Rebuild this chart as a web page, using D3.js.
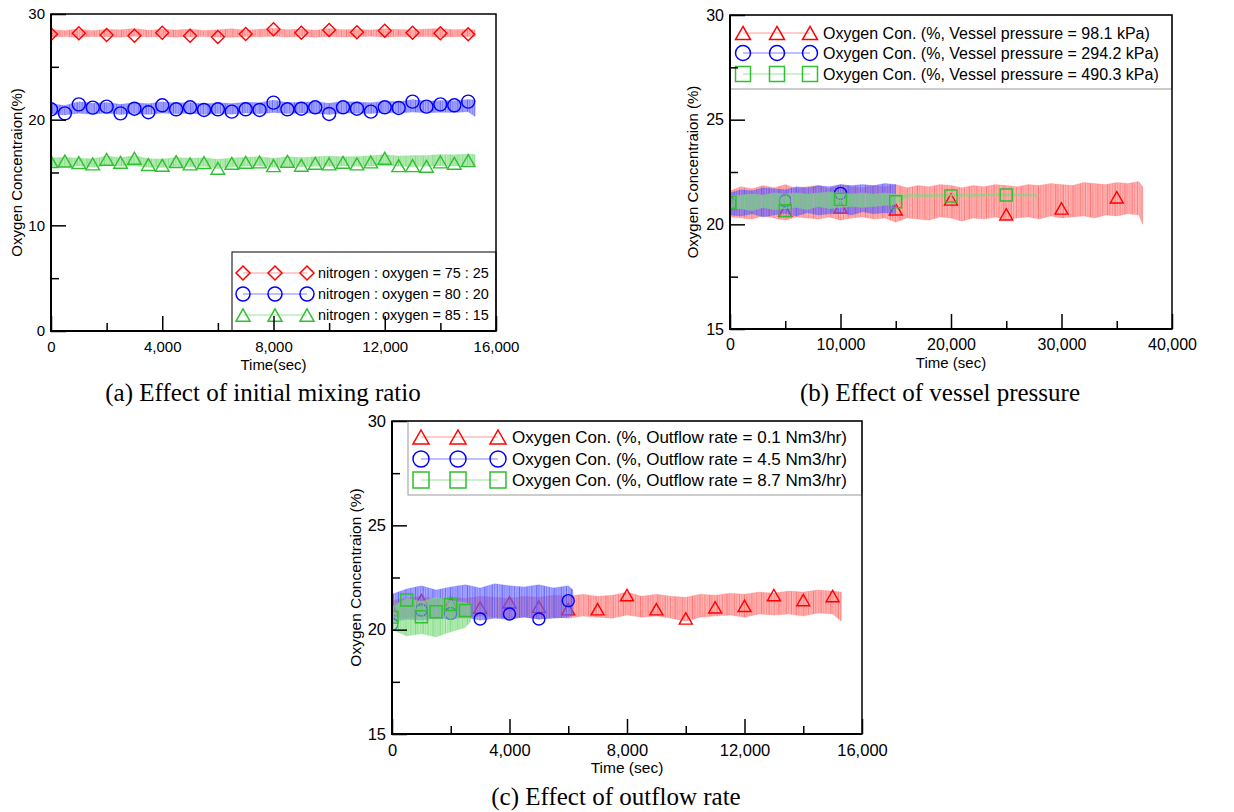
<!DOCTYPE html>
<html><head><meta charset="utf-8">
<script src="https://cdn.jsdelivr.net/npm/d3@7/dist/d3.min.js"></script>
<style>body{margin:0;background:#fff}svg{display:block}</style>
</head><body>
<script>
// ---------------- DATA ----------------
// Panel (a): effect of initial mixing ratio
const aLabels = ["nitrogen : oxygen = 75 : 25", "nitrogen : oxygen = 80 : 20", "nitrogen : oxygen = 85 : 15"];
const aRedMarkT = [0,1000,2000,3000,4000,5000,6000,7000,8000,9000,10000,11000,12000,13000,14000,15000];
const aRedMarkV = [28.08,28.17,28.01,27.95,28.23,27.95,27.82,28.11,28.55,28.23,28.49,28.27,28.42,28.23,28.17,28.08];
const aHalfT = [0,500,1000,1500,2000,2500,3000,3500,4000,4500,5000,5500,6000,6500,7000,7500,8000,8500,9000,9500,10000,10500,11000,11500,12000,12500,13000,13500,14000,14500,15000];
const aBlueMarkV = [20.98,20.60,21.45,21.14,21.23,20.60,21.04,20.70,21.36,20.98,21.17,20.92,20.98,20.76,20.98,20.92,21.61,20.98,21.04,21.17,20.54,21.17,21.04,20.76,21.17,21.11,21.71,21.23,21.45,21.36,21.71];
const aGreenMarkV = [16.03,16.09,15.94,15.81,16.25,15.97,16.35,15.75,15.68,16.03,15.81,15.94,15.40,15.87,15.97,16.00,15.65,16.06,15.68,15.87,15.81,15.97,15.81,16.00,16.35,15.65,15.65,15.59,16.00,15.87,16.13];
// noisy measured traces: min / max of the signal, read every 500 s
const aTraceStep = 500, aTraceEnd = 15250;
const aRedLo = [27.82,27.86,27.78,27.88,27.84,27.80,27.90,27.83,27.86,27.79,27.85,27.88,27.82,27.80,27.87,27.84,27.90,27.82,27.86,27.80,27.88,27.83,27.85,27.90,27.81,27.86,27.84,27.88,27.82,27.85,27.87,27.86];
const aRedHi = [28.52,28.45,28.58,28.42,28.55,28.50,28.62,28.46,28.55,28.48,28.58,28.44,28.52,28.60,28.47,28.55,28.66,28.50,28.58,28.46,28.62,28.52,28.56,28.48,28.60,28.54,28.50,28.58,28.62,28.52,28.56,28.50];
const aBlueLo = [20.55,20.45,20.60,20.52,20.62,20.48,20.58,20.50,20.62,20.55,20.60,20.50,20.58,20.52,20.62,20.55,20.68,20.58,20.62,20.60,20.50,20.65,20.60,20.58,20.68,20.62,20.72,20.66,20.70,20.68,20.75,20.30];
const aBlueHi = [21.50,21.35,21.70,21.55,21.62,21.45,21.60,21.50,21.70,21.58,21.62,21.48,21.60,21.52,21.65,21.60,21.85,21.60,21.65,21.70,21.55,21.72,21.68,21.60,21.75,21.70,21.90,21.75,21.82,21.78,21.90,21.85];
const aGreenLo = [15.60,15.55,15.62,15.50,15.65,15.58,15.62,15.50,15.48,15.60,15.55,15.58,15.35,15.55,15.60,15.62,15.50,15.60,15.55,15.58,15.60,15.62,15.58,15.62,15.65,15.60,15.55,15.58,15.65,15.62,15.68,15.66];
const aGreenHi = [16.40,16.45,16.35,16.30,16.55,16.40,16.60,16.30,16.28,16.42,16.35,16.40,16.25,16.38,16.45,16.50,16.35,16.48,16.42,16.50,16.55,16.48,16.52,16.58,16.70,16.55,16.60,16.62,16.70,16.68,16.75,16.70];

// Panel (b): effect of vessel pressure
const bLabels = ["Oxygen Con. (%, Vessel pressure = 98.1 kPa)", "Oxygen Con. (%, Vessel pressure = 294.2 kPa)", "Oxygen Con. (%, Vessel pressure = 490.3 kPa)"];
const bRedMarkT = [0,5000,10000,15000,20000,25000,30000,35000];
const bRedMarkV = [21.00,20.65,20.81,20.72,21.19,20.48,20.76,21.29];
const bBlueMarkT = [0,5000,10000];
const bBlueMarkV = [21.00,21.13,21.48];
const bGreenMarkT = [0,5000,10000,15000,20000,25000];
const bGreenMarkV = [21.05,20.65,21.19,21.08,21.35,21.40];
const bTraceStep = 1000;
const bRedEnd = 37350;
const bRedLo = [20.35,20.30,20.25,20.40,20.30,20.20,20.35,20.30,20.25,20.35,20.20,20.30,20.35,20.25,20.30,20.10,20.30,20.25,20.20,20.35,20.30,20.15,20.30,20.25,20.35,20.20,20.30,20.35,20.25,20.40,20.30,20.35,20.40,20.30,20.45,20.40,20.50,20.45,20.00];
const bRedHi = [21.60,21.80,21.70,21.85,21.75,21.90,21.70,21.80,21.85,21.70,21.90,21.80,21.75,21.85,21.80,21.90,21.75,21.85,21.80,21.90,21.85,21.75,21.85,21.80,21.90,21.85,21.80,21.90,21.85,21.95,21.90,21.85,22.00,21.95,21.90,22.00,21.95,22.05,21.80];
const bBlueEnd = 15000;
const bBlueLo = [20.45,20.40,20.50,20.35,20.45,20.50,20.40,20.55,20.45,20.50,20.55,20.45,20.60,20.50,20.55,20.50];
const bBlueHi = [21.50,21.65,21.60,21.75,21.70,21.65,21.80,21.75,21.85,21.80,21.90,21.85,21.90,21.85,21.95,21.90];
const bGreenT  = [0,1000,2000,3000,4000,5000,6000,7000,8000,9000,10000,11000,12000,13000,14000,15000,16000,18000,20000,22000,24000,26000,27800,27800];
const bGreenLo = [20.70,20.75,20.65,20.80,20.70,20.75,20.80,20.70,20.85,20.75,20.80,20.85,20.80,20.85,20.90,20.95,21.30,21.32,21.35,21.33,21.36,21.35,21.34,20.75];
const bGreenHi = [21.35,21.40,21.45,21.40,21.50,21.45,21.50,21.45,21.50,21.55,21.50,21.45,21.50,21.45,21.50,21.45,21.42,21.44,21.45,21.44,21.46,21.45,21.44,21.44];

// Panel (c): effect of outflow rate
const cLabels = ["Oxygen Con. (%, Outflow rate = 0.1 Nm3/hr)", "Oxygen Con. (%, Outflow rate = 4.5 Nm3/hr)", "Oxygen Con. (%, Outflow rate = 8.7 Nm3/hr)"];
const cRedMarkT = [0,1000,2000,3000,4000,5000,6000,7000,8000,9000,10000,11000,12000,13000,14000,15000];
const cRedMarkV = [20.94,21.42,21.26,21.06,21.31,21.10,20.98,20.98,21.66,20.98,20.54,21.07,21.14,21.66,21.42,21.61];
const cBlueMarkT = [0,1000,2000,3000,4000,5000,6000];
const cBlueMarkV = [20.26,20.94,20.78,20.51,20.75,20.51,21.39];
const cGreenMarkT = [0,500,1000,1500,2000,2500];
const cGreenMarkV = [20.60,21.42,20.62,20.86,21.20,20.92];
const cTraceStep = 500;
const cRedEnd = 15300;
const cRedLo = [20.60,20.55,20.65,20.50,20.60,20.55,20.65,20.60,20.55,20.62,20.50,20.60,20.55,20.65,20.60,20.55,20.70,20.60,20.65,20.55,20.40,20.60,20.65,20.70,20.60,20.75,20.70,20.75,20.65,20.80,20.75,20.40];
const cRedHi = [21.40,21.50,21.60,21.45,21.55,21.50,21.60,21.55,21.50,21.60,21.55,21.65,21.60,21.70,21.60,21.65,21.80,21.60,21.70,21.60,21.55,21.70,21.65,21.75,21.70,21.80,21.75,21.85,21.80,21.90,21.85,21.80];
const cBlueEnd = 6160;
const cBlueLo = [20.35,20.50,20.45,20.55,20.50,20.60,20.45,20.55,20.50,20.60,20.50,20.55,20.60,20.70];
const cBlueHi = [21.70,21.95,22.10,21.90,22.05,22.15,22.00,22.20,22.10,22.05,22.15,22.00,22.10,21.90];
const cGreenEnd = 2680;
const cGreenLo = [20.00,19.70,19.80,19.65,19.90,20.10,20.40];
const cGreenHi = [21.10,21.50,21.35,21.55,21.40,21.30,21.20];

// ---------------- DRAWING ----------------
const W = 1234, H = 812;
const svg = d3.select("body").append("svg").attr("width", W).attr("height", H);
const SANS = "'Liberation Sans', Arial, sans-serif";
const SERIF = "'Liberation Serif', 'Times New Roman', serif";
const COL = {
  red:   {mark: "#ff0000", trace: "#ff6f6f", leg: "#ff9a9a"},
  blue:  {mark: "#0000ff", trace: "#5c5cff", leg: "#8080ff"},
  green: {mark: "#2fbf2f", trace: "#7ad87a", leg: "#99e099"}
};

// irregular striped fill patterns that give the dense noisy-trace look
const defs = svg.append("defs");
const PW = 17.3;
const stripes = [[0,1,0.95],[1.3,0.7,0.4],[2.2,1.2,0.85],[3.8,0.6,0.3],[4.6,1,0.7],[6.1,0.8,0.5],[7.2,1.3,0.95],
                 [8.9,0.6,0.35],[9.8,1,0.8],[11.2,0.7,0.45],[12.3,1.1,0.9],[13.9,0.6,0.4],[14.8,1,0.75],[16.2,0.8,0.55]];
Object.keys(COL).forEach(k => {
  const p = defs.append("pattern").attr("id", "pat-" + k).attr("patternUnits", "userSpaceOnUse")
    .attr("width", PW).attr("height", H);
  p.append("rect").attr("width", PW).attr("height", H).attr("fill", COL[k].trace).attr("fill-opacity", 0.35);
  stripes.forEach(s => p.append("rect").attr("x", s[0]).attr("width", s[1]).attr("height", H)
    .attr("fill", COL[k].trace).attr("fill-opacity", s[2]));
});

function stepTimes(n, step, end) { return d3.range(n).map(i => Math.min(i * step, end)); }
function zipBand(t, lo, hi) { const n = Math.min(t.length, lo.length, hi.length); return d3.range(n).map(i => ({t: t[i], lo: lo[i], hi: hi[i]})); }
function zipPts(t, v) { return t.map((d, i) => ({t: d, v: v[i]})); }

function markerPath(shape, s) {
  if (shape === "diamond") return `M0,${-s}L${s},0L0,${s}L${-s},0Z`;
  if (shape === "triangle") { const h = s * 1.75; return `M0,${-h/2}L${s},${h/2}L${-s},${h/2}Z`; }
  if (shape === "square") return `M${-s},${-s}H${s}V${s}H${-s}Z`;
  return "";
}
function drawMarker(g, shape, s, x, y, color, sw) {
  if (shape === "circle") {
    g.append("circle").attr("cx", x).attr("cy", y).attr("r", s).attr("fill", "none").attr("stroke", color).attr("stroke-width", sw);
  } else {
    g.append("path").attr("d", markerPath(shape, s)).attr("transform", `translate(${x},${y})`)
      .attr("fill", "none").attr("stroke", color).attr("stroke-width", sw);
  }
}

let clipId = 0;
function panel(cfg) {
  const g = svg.append("g");
  const x = d3.scaleLinear().domain(cfg.xDomain).range([cfg.left, cfg.right]);
  const y = d3.scaleLinear().domain(cfg.yDomain).range([cfg.bottom, cfg.top]);
  const id = "clip" + (clipId++);
  defs.append("clipPath").attr("id", id).append("rect")
    .attr("x", cfg.left).attr("y", cfg.top).attr("width", cfg.right - cfg.left).attr("height", cfg.bottom - cfg.top);
  const plot = g.append("g").attr("clip-path", `url(#${id})`);

  const area = d3.area().x(d => x(d.t)).y0(d => y(d.lo)).y1(d => y(d.hi));
  cfg.series.forEach(s => {
    const c = COL[s.color];
    plot.append("path").datum(s.band).attr("d", area)
      .attr("fill", `url(#pat-${s.color})`)
      .attr("stroke", c.trace).attr("stroke-opacity", 0.35).attr("stroke-width", 0.7);
    const mg = plot.append("g");
    s.marks.forEach(p => drawMarker(mg, s.shape, s.size, x(p.t), y(p.v), c.mark, 1.4));
  });

  // legend
  const L = cfg.legend;
  g.append("rect").attr("x", L.x0).attr("y", L.y0).attr("width", L.x1 - L.x0).attr("height", L.y1 - L.y0)
    .attr("fill", "#fff").attr("stroke", L.stroke).attr("stroke-width", 1);
  cfg.series.forEach((s, i) => {
    const c = COL[s.color];
    const ry = L.rows[i];
    g.append("line").attr("x1", L.mx[0]).attr("x2", L.mx[2]).attr("y1", ry).attr("y2", ry)
      .attr("stroke", c.leg).attr("stroke-width", 1.2);
    L.mx.forEach(mx => drawMarker(g, s.shape, L.msize, mx, ry, c.mark, 1.5));
    g.append("text").attr("x", L.tx).attr("y", ry).attr("dy", "0.36em")
      .attr("font-family", SANS).attr("font-size", L.font).attr("fill", "#000").text(s.label);
  });

  // axes (ticks inward)
  const fmt = d3.format(",");
  const xMaj = g.append("g").attr("transform", `translate(0,${cfg.bottom})`)
    .call(d3.axisBottom(x).tickValues(cfg.xMajor).tickFormat(fmt).tickSize(-15).tickPadding(cfg.xPad));
  const xMin = g.append("g").attr("transform", `translate(0,${cfg.bottom})`)
    .call(d3.axisBottom(x).tickValues(cfg.xMinor).tickFormat("").tickSize(-8));
  const yMaj = g.append("g").attr("transform", `translate(${cfg.left},0)`)
    .call(d3.axisLeft(y).tickValues(cfg.yMajor).tickFormat(fmt).tickSize(-15).tickPadding(6));
  const yMin = g.append("g").attr("transform", `translate(${cfg.left},0)`)
    .call(d3.axisLeft(y).tickValues(cfg.yMinor).tickFormat("").tickSize(-8));
  [xMaj, xMin, yMaj, yMin].forEach(a => {
    a.select(".domain").remove();
    a.selectAll("line").attr("stroke", "#000").attr("stroke-width", 1.5);
    a.selectAll("text").attr("font-family", SANS).attr("font-size", cfg.tickFont).attr("fill", "#000");
  });

  // frame
  g.append("rect").attr("x", cfg.left).attr("y", cfg.top).attr("width", cfg.right - cfg.left).attr("height", cfg.bottom - cfg.top)
    .attr("fill", "none").attr("stroke", "#000").attr("stroke-width", 1.5);
  g.append("path").attr("d", `M${cfg.left},${cfg.top}V${cfg.bottom}H${cfg.right}`)
    .attr("fill", "none").attr("stroke", "#000").attr("stroke-width", 2);

  // titles
  g.append("text").attr("x", (cfg.left + cfg.right) / 2).attr("y", cfg.xTitleY).attr("text-anchor", "middle")
    .attr("font-family", SANS).attr("font-size", cfg.titleFont).text(cfg.xTitle);
  g.append("text").attr("transform", `translate(${cfg.yTitleX},${(cfg.top + cfg.bottom) / 2}) rotate(-90)`)
    .attr("text-anchor", "middle").attr("dy", "0.36em")
    .attr("font-family", SANS).attr("font-size", cfg.titleFont).text(cfg.yTitle);
  g.append("text").attr("x", cfg.capX).attr("y", cfg.capY).attr("text-anchor", "middle")
    .attr("font-family", SERIF).attr("font-size", 25).text(cfg.caption);
}

// Panel (a)
panel({
  left: 51, right: 496, top: 14, bottom: 331,
  xDomain: [0, 16000], yDomain: [0, 30],
  xMajor: [0, 4000, 8000, 12000, 16000], xMinor: [2000, 6000, 10000, 14000],
  yMajor: [0, 10, 20, 30], yMinor: [5, 15, 25],
  tickFont: 15, xPad: 10, titleFont: 15,
  xTitle: "Time(sec)", xTitleY: 370, yTitle: "Oxygen Concentraion(%)", yTitleX: 17,
  caption: "(a) Effect of initial mixing ratio", capX: 263, capY: 401,
  legend: {x0: 232, y0: 252, x1: 496, y1: 331, stroke: "#000", rows: [273, 294, 315], mx: [243, 275, 307], tx: 318, font: 14.4, msize: 7},
  series: [
    {label: aLabels[0], color: "red", shape: "diamond", size: 6.5,
     marks: zipPts(aRedMarkT, aRedMarkV), band: zipBand(stepTimes(aRedLo.length, aTraceStep, aTraceEnd), aRedLo, aRedHi)},
    {label: aLabels[1], color: "blue", shape: "circle", size: 6.5,
     marks: zipPts(aHalfT, aBlueMarkV), band: zipBand(stepTimes(aBlueLo.length, aTraceStep, aTraceEnd), aBlueLo, aBlueHi)},
    {label: aLabels[2], color: "green", shape: "triangle", size: 6.8,
     marks: zipPts(aHalfT, aGreenMarkV), band: zipBand(stepTimes(aGreenLo.length, aTraceStep, aTraceEnd), aGreenLo, aGreenHi)}
  ]
});

// Panel (b)
panel({
  left: 730, right: 1172, top: 15, bottom: 329,
  xDomain: [0, 40000], yDomain: [15, 30],
  xMajor: [0, 10000, 20000, 30000, 40000], xMinor: [5000, 15000, 25000, 35000],
  yMajor: [15, 20, 25, 30], yMinor: [17.5, 22.5, 27.5],
  tickFont: 16, xPad: 10, titleFont: 15,
  xTitle: "Time (sec)", xTitleY: 368, yTitle: "Oxygen Concentraion (%)", yTitleX: 693,
  caption: "(b) Effect of vessel pressure", capX: 940, capY: 401,
  legend: {x0: 730, y0: 15, x1: 1172, y1: 89, stroke: "#999", rows: [33, 53, 74], mx: [743, 777, 810], tx: 823, font: 16, msize: 7.5},
  series: [
    {label: bLabels[0], color: "red", shape: "triangle", size: 6.5,
     marks: zipPts(bRedMarkT, bRedMarkV), band: zipBand(stepTimes(bRedLo.length, bTraceStep, bRedEnd), bRedLo, bRedHi)},
    {label: bLabels[1], color: "blue", shape: "circle", size: 6,
     marks: zipPts(bBlueMarkT, bBlueMarkV), band: zipBand(stepTimes(bBlueLo.length, bTraceStep, bBlueEnd), bBlueLo, bBlueHi)},
    {label: bLabels[2], color: "green", shape: "square", size: 6,
     marks: zipPts(bGreenMarkT, bGreenMarkV), band: zipBand(bGreenT, bGreenLo, bGreenHi)}
  ]
});

// Panel (c)
panel({
  left: 392, right: 862, top: 421, bottom: 734,
  xDomain: [0, 16000], yDomain: [15, 30],
  xMajor: [0, 4000, 8000, 12000, 16000], xMinor: [2000, 6000, 10000, 14000],
  yMajor: [15, 20, 25, 30], yMinor: [17.5, 22.5, 27.5],
  tickFont: 16.5, xPad: 10, titleFont: 15.5,
  xTitle: "Time (sec)", xTitleY: 773, yTitle: "Oxygen Concentraion (%)", yTitleX: 355,
  caption: "(c) Effect of outflow rate", capX: 616, capY: 805,
  legend: {x0: 408, y0: 421, x1: 862, y1: 495, stroke: "#999", rows: [437, 459, 480], mx: [421, 458, 498], tx: 512, font: 17, msize: 8},
  series: [
    {label: cLabels[0], color: "red", shape: "triangle", size: 6.5,
     marks: zipPts(cRedMarkT, cRedMarkV), band: zipBand(stepTimes(cRedLo.length, cTraceStep, cRedEnd), cRedLo, cRedHi)},
    {label: cLabels[1], color: "blue", shape: "circle", size: 6,
     marks: zipPts(cBlueMarkT, cBlueMarkV), band: zipBand(stepTimes(cBlueLo.length, cTraceStep, cBlueEnd), cBlueLo, cBlueHi)},
    {label: cLabels[2], color: "green", shape: "square", size: 6,
     marks: zipPts(cGreenMarkT, cGreenMarkV), band: zipBand(stepTimes(cGreenLo.length, cTraceStep, cGreenEnd), cGreenLo, cGreenHi)}
  ]
});
</script>
</body></html>
